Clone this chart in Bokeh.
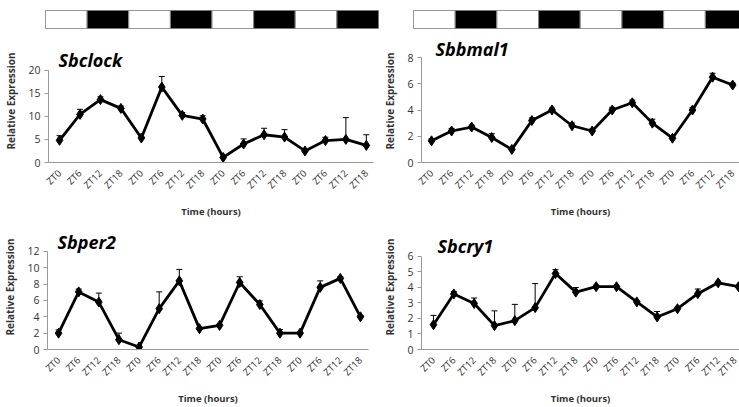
from bokeh.plotting import figure
from bokeh.layouts import column, row
from bokeh.models import ColumnDataSource, Whisker, TeeHead, FixedTicker, Range1d, Label
from bokeh.embed import file_html
from bokeh.resources import INLINE

# ---------------- data ----------------
zt_labels = ["ZT0", "ZT6", "ZT12", "ZT18", "ZT0", "ZT6", "ZT12", "ZT18",
             "ZT0", "ZT6", "ZT12", "ZT18", "ZT0", "ZT6", "ZT12", "ZT18"]
phases = ["L", "D", "L", "D", "L", "D", "L", "D"]

clock = [4.8, 10.4, 13.6, 11.7, 5.3, 16.3, 10.2, 9.4, 1.1, 4.0, 6.0, 5.5, 2.5, 4.75, 5.0, 3.7]
clock_err = [1.0, 1.1, 0.6, 0.5, 0.3, 2.3, 0.6, 0.7, 0.3, 1.1, 1.4, 1.6, 0.3, 0.7, 4.7, 2.3]

bmal1 = [1.65, 2.4, 2.7, 1.9, 1.0, 3.2, 4.0, 2.8, 2.4, 4.0, 4.55, 3.0, 1.85, 4.0, 6.5, 5.9]
bmal1_err = [0.15, 0.2, 0.15, 0.3, 0.15, 0.2, 0.15, 0.2, 0.15, 0.2, 0.2, 0.3, 0.1, 0.2, 0.3, 0.15]

per2 = [2.0, 7.05, 5.8, 1.2, 0.3, 5.0, 8.4, 2.55, 2.95, 8.2, 5.5, 2.0, 2.0, 7.6, 8.7, 4.0]
per2_err = [0.4, 0.35, 1.1, 0.8, 0.1, 2.05, 1.4, 0.15, 0.15, 0.7, 0.45, 0.45, 0.1, 0.8, 0.2, 0.15]

cry1 = [1.6, 3.58, 2.97, 1.54, 1.86, 2.7, 4.9, 3.7, 4.05, 4.05, 3.07, 2.1, 2.63, 3.6, 4.3, 4.05]
cry1_err = [0.6, 0.15, 0.35, 0.95, 1.05, 1.55, 0.25, 0.3, 0.1, 0.05, 0.05, 0.35, 0.1, 0.3, 0.1, 0.05]

FONT = "Open Sans"
TOP_PAD = 4


def panel(name, vals, errs, ymax, ystep, width, height, left, right, fig_top, ymax_px, y0_px,
          xr, title_dx, title_dy):
    # y range extends above ymax so the title can sit inside the frame
    ppu = (y0_px - ymax_px) / ymax
    y_end = ymax + (ymax_px - (fig_top + TOP_PAD)) / ppu
    p = figure(width=width, height=height, output_backend="svg", toolbar_location=None,
               x_range=Range1d(*xr), y_range=Range1d(0, y_end),
               min_border_left=left, min_border_right=right,
               min_border_top=TOP_PAD, min_border_bottom=fig_top + height - y0_px)
    p.outline_line_color = None
    p.xgrid.visible = False
    p.ygrid.visible = False
    xs = list(range(len(vals)))
    src = ColumnDataSource(dict(x=xs, y=vals, hi=[v + e for v, e in zip(vals, errs)]))
    w = Whisker(source=src, base="x", lower="y", upper="hi", line_color="black", line_width=1,
                lower_head=None, upper_head=TeeHead(size=6, line_color="black", line_width=1))
    p.add_layout(w)
    p.line("x", "y", source=src, line_color="black", line_width=2.8)
    p.scatter("x", "y", source=src, marker="diamond", size=10, color="black")

    p.xaxis.ticker = FixedTicker(ticks=xs)
    p.xaxis.major_label_overrides = {i: zt_labels[i] for i in xs}
    p.xaxis.major_label_orientation = 0.785
    p.xaxis.major_tick_out = 0
    p.xaxis.major_tick_in = 0
    p.xaxis.minor_tick_line_color = None
    p.xaxis.axis_label = "Time (hours)"
    p.xaxis.major_label_standoff = 9

    p.yaxis.ticker = FixedTicker(ticks=list(range(0, ymax + 1, ystep)))
    p.yaxis.bounds = (0, ymax)
    p.yaxis.minor_tick_line_color = None
    p.yaxis.major_tick_out = 4
    p.yaxis.major_tick_in = 0
    p.yaxis.axis_label = "Relative Expression"
    p.yaxis.major_label_standoff = 4

    for ax in (p.xaxis, p.yaxis):
        ax.axis_line_color = "#9a9a9a"
        ax.major_tick_line_color = "#9a9a9a"
        ax.major_label_text_font = FONT
        ax.major_label_text_color = "#333333"
        ax.axis_label_text_font = FONT
        ax.axis_label_text_font_style = "bold"
        ax.axis_label_text_color = "#333333"
    p.xaxis.major_label_text_font_size = "9.5px"
    p.yaxis.major_label_text_font_size = "10.5px"
    p.xaxis.axis_label_text_font_size = "9.5px"
    p.yaxis.axis_label_text_font_size = "10px"
    p.xaxis.axis_label_standoff = 6
    p.yaxis.axis_label_standoff = 7

    p.add_layout(Label(x=xr[0], y=ymax, x_offset=title_dx, y_offset=title_dy, text=name,
                       text_font=FONT, text_font_style="bold italic", text_font_size="18px",
                       text_color="black", text_baseline="middle", text_align="left"))
    return p


def ld_bar(width, left, right, xend):
    p = figure(width=width, height=35, output_backend="svg", toolbar_location=None,
               x_range=Range1d(0, xend), y_range=Range1d(0, 1),
               min_border_left=left, min_border_right=right,
               min_border_top=10, min_border_bottom=7)
    p.axis.visible = False
    p.grid.visible = False
    p.outline_line_color = "#888888"
    xs = list(range(len(phases)))
    cols = ["white" if ph == "L" else "black" for ph in phases]
    p.quad(left=xs, right=[x + 1 for x in xs], bottom=0, top=1, fill_color=cols,
           line_color="#888888", line_width=1)
    return p


bar_l = ld_bar(380, 45, 2, 8)
bar_r = ld_bar(359, 33, 0, 7.82)

p_clock = panel("Sbclock", clock, clock_err, 20, 5, 380, 185, 48, 7, 35, 70, 164,
                (-0.54, 15.35), 10, 10)
p_bmal = panel("Sbbmal1", bmal1, bmal1_err, 8, 2, 359, 185, 39, 0, 35, 57, 162,
               (-0.5, 15.34), 14, 9)
p_per2 = panel("Sbper2", per2, per2_err, 12, 2, 380, 187, 47, 12, 220, 252, 354,
               (-0.55, 15.4), 10, 9)
p_cry1 = panel("Sbcry1", cry1, cry1_err, 6, 1, 359, 187, 39, 0, 220, 258, 357,
               (-0.59, 15.05), 16, 10)

layout = column(row(bar_l, bar_r), row(p_clock, p_bmal), row(p_per2, p_cry1))

open("out.html", "w").write(file_html(layout, INLINE))
